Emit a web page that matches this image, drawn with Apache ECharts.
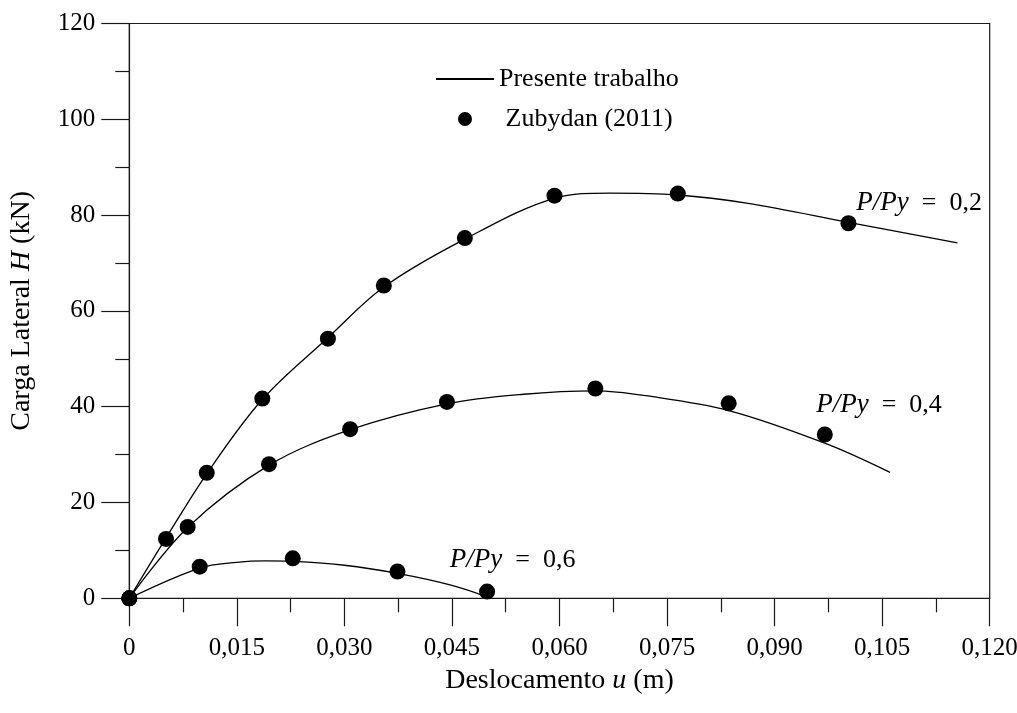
<!DOCTYPE html>
<html>
<head>
<meta charset="utf-8">
<script src="https://cdn.jsdelivr.net/npm/echarts@6/dist/echarts.min.js"></script>
<style>html,body{margin:0;padding:0;background:#fff}#c{width:1017px;height:713px}</style>
</head>
<body>
<div id="c"></div>
<script>
// Curves (Presente trabalho): [u (m), H (kN)]
const curve02 = [[0,0],[0.005,12.3],[0.0108,26.0],[0.0186,41.6],[0.0277,54.4],[0.0355,65.0],[0.0468,75.0],[0.0593,83.5],[0.067,84.6],[0.0765,84.2],[0.0861,82.5],[0.1003,78.5],[0.1155,74.2]];
const curve04 = [[0,0],[0.00814,14.8],[0.0195,27.8],[0.0308,35.2],[0.0443,40.6],[0.055,42.6],[0.065,43.3],[0.072,42.3],[0.0836,39.2],[0.097,32.4],[0.1061,26.3]];
const curve06 = [[0,0],[0.00982,6.3],[0.0150,7.5],[0.0190,7.8],[0.0228,7.7],[0.030,6.9],[0.0374,5.2],[0.045,2.7],[0.0499,0.3]];
// Zubydan (2011) points
const pts02 = [[0,0],[0.00512,12.4],[0.0108,26.2],[0.01855,41.7],[0.0277,54.2],[0.0355,65.3],[0.0468,75.2],[0.0593,84.05],[0.0765,84.5],[0.1003,78.3]];
const pts04 = [[0,0],[0.00814,14.9],[0.01948,28.0],[0.0308,35.3],[0.0443,41.0],[0.0650,43.8],[0.0836,40.7],[0.0970,34.2]];
const pts06 = [[0,0],[0.00982,6.6],[0.0228,8.35],[0.0374,5.6],[0.0499,1.4]];
// Curve labels: [u, H, ratio]
const curveLabels = [[0.1014,82.5,'0,2'],[0.0958,40.4,'0,4'],[0.0447,8.0,'0,6']];
const xTicks = {min:0,max:0.12,interval:0.015};
const yTicks = {min:0,max:120,interval:20};

const FONT = 'Liberation Serif';
const AX = '#1a1a1a';
const chart = echarts.init(document.getElementById('c'), null, {renderer:'canvas'});

function lineSeries(d){
  return {name:'Presente trabalho',type:'line',data:d,smooth:0.35,symbol:'none',
    lineStyle:{color:'#000',width:1.3},itemStyle:{color:'#000'},z:3,silent:true};
}
function ptSeries(d){
  return {name:'Zubydan (2011)',type:'scatter',data:d,symbol:'circle',symbolSize:16,
    itemStyle:{color:'#000',opacity:1},z:4,silent:true};
}
const italic = {fontFamily:FONT,fontStyle:'italic',fontSize:27,color:'#000'};
const labelSeries = {
  type:'scatter',symbolSize:0,silent:true,z:5,itemStyle:{opacity:1,color:'#000'},
  data: curveLabels.map(l=>({value:[l[0],l[1]],r:l[2]})),
  label:{show:true,position:'right',distance:0,
    formatter:p=>'{i|P/Py}  =  '+p.data.r,
    fontFamily:FONT,fontSize:26,color:'#000',opacity:1,
    rich:{i:italic}}
};

chart.setOption({
  animation:false,
  backgroundColor:'#fff',
  textStyle:{fontFamily:FONT},
  grid:{left:129.3,right:27.3,top:23.5,bottom:114.7,outerBoundsMode:'none',containLabel:false,
    show:true,borderColor:AX,borderWidth:1.2,backgroundColor:'transparent'},
  legend:{
    orient:'vertical',left:430,top:61,itemWidth:58,itemHeight:14,itemGap:14,
    textStyle:{fontFamily:FONT,fontSize:26,color:'#000'},
    formatter:n=>n==='Zubydan (2011)'?' '+n:n,
    data:[{name:'Presente trabalho',itemStyle:{opacity:0}},{name:'Zubydan (2011)'}],
    selectedMode:false
  },
  xAxis:{
    type:'value',min:xTicks.min,max:xTicks.max,interval:xTicks.interval,
    name:'Deslocamento {i|u} (m)',nameLocation:'middle',nameGap:60,
    nameTextStyle:{fontFamily:FONT,fontSize:28,color:'#000',rich:{i:Object.assign({},italic,{fontSize:28})}},
    axisLine:{show:true,onZero:false,lineStyle:{color:AX,width:1.2}},
    axisTick:{show:true,inside:false,length:28,lineStyle:{color:AX,width:1.2}},
    minorTick:{show:true,splitNumber:2,length:14,lineStyle:{color:AX,width:1.2}},
    splitLine:{show:false},
    axisLabel:{margin:38,fontFamily:FONT,fontSize:25,color:'#000',
      formatter:v=>v===0?'0':v.toFixed(3).replace('.',',')}
  },
  yAxis:{
    type:'value',min:yTicks.min,max:yTicks.max,interval:yTicks.interval,
    name:'Carga Lateral {i|H} (kN)',nameLocation:'middle',nameGap:94,nameRotate:90,
    nameTextStyle:{fontFamily:FONT,fontSize:28,color:'#000',rich:{i:Object.assign({},italic,{fontSize:28})}},
    axisLine:{show:true,onZero:false,lineStyle:{color:AX,width:1.2}},
    axisTick:{show:true,inside:false,length:28,lineStyle:{color:AX,width:1.2}},
    minorTick:{show:true,splitNumber:2,length:14,lineStyle:{color:AX,width:1.2}},
    splitLine:{show:false},
    axisLabel:{margin:34,fontFamily:FONT,fontSize:25,color:'#000'}
  },
  series:[lineSeries(curve02),lineSeries(curve04),lineSeries(curve06),
    ptSeries(pts02),ptSeries(pts04),ptSeries(pts06),labelSeries]
});
</script>
</body>
</html>
